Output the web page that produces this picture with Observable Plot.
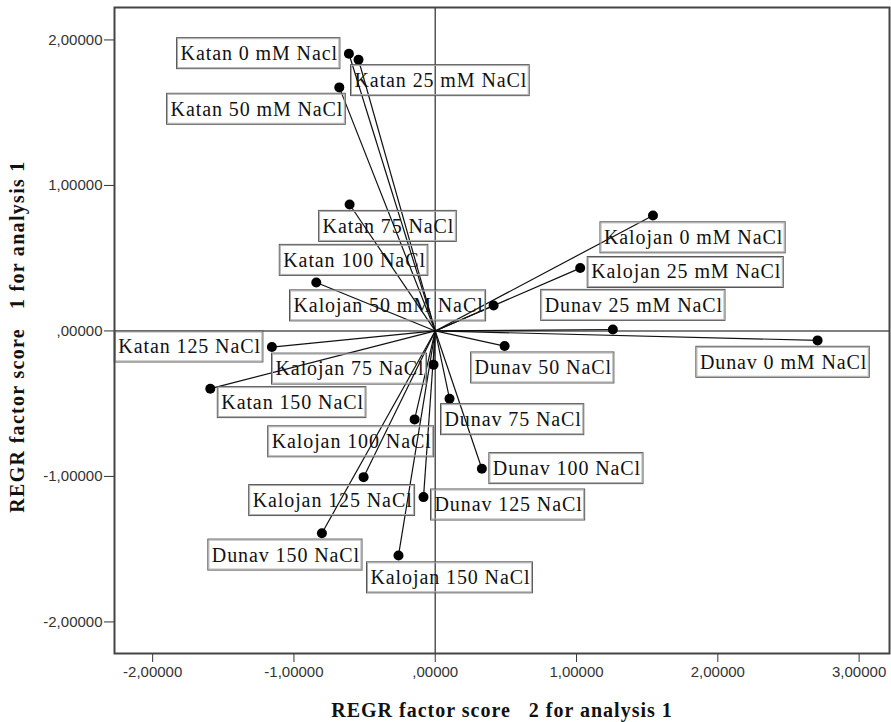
<!DOCTYPE html>
<html>
<head>
<meta charset="utf-8">
<script src="https://cdn.jsdelivr.net/npm/d3@7"></script>
<script src="https://cdn.jsdelivr.net/npm/@observablehq/plot@0.6"></script>
<style>
  html, body { margin: 0; padding: 0; background: #fff; }
  g[aria-description="point label"] text { letter-spacing: 0.9px; }
  g[aria-description="x title"] text { letter-spacing: 1px; }
  g[aria-description="y title"] text { letter-spacing: 1.3px; }
</style>
</head>
<body>
<div id="chart"></div>
<script>
// ---- data ----
const labels = [
  "Katan 0 mM Nacl", "Katan 25 mM NaCl", "Katan 50 mM NaCl", "Katan 75 NaCl",
  "Katan 100 NaCl", "Kalojan 50 mM NaCl", "Katan 125 NaCl", "Kalojan 75 NaCl",
  "Katan 150 NaCl", "Dunav 75 NaCl", "Kalojan 100 NaCl", "Dunav 100 NaCl",
  "Kalojan 125 NaCl", "Dunav 125 NaCl", "Dunav 150 NaCl", "Kalojan 150 NaCl",
  "Kalojan 0 mM NaCl", "Kalojan 25 mM NaCl", "Dunav 25 mM NaCl", "Dunav 50 NaCl",
  "Dunav 0 mM NaCl"
];
const score2 = [
  -0.611, -0.543, -0.679, -0.606, -0.842, 0.413, -1.156, -0.012,
  -1.592, 0.101, -0.146, 0.330, -0.507, -0.083, -0.802, -0.260,
  1.541, 1.026, 1.257, 0.491, 2.706
];
const score1 = [
  1.905, 1.864, 1.674, 0.869, 0.333, 0.175, -0.111, -0.232,
  -0.397, -0.466, -0.608, -0.947, -1.005, -1.142, -1.390, -1.543,
  0.794, 0.432, 0.010, -0.104, -0.065
];
const xTicks = [-2, -1, 0, 1, 2, 3];
const yTicks = [-2, -1, 0, 1, 2];
const xTitle = "REGR factor score \u00a0 2 for analysis 1";
const yTitle = "REGR factor score \u00a0 1 for analysis 1";

// ---- label placement (layout only: anchor, dx, dy in px) ----
const labelPlacement = [
  ["end", -11, 0], ["start", -4, 21], ["end", 4, 22], ["start", -27, 22],
  ["start", -33, -22], ["end", -10, 0], ["end", -11, 0], ["end", -9, 4],
  ["start", 11, 14], ["start", -5, 21], ["end", 17, 22], ["start", 11, 0],
  ["end", 49, 23], ["start", 11, 8], ["middle", -36, 22], ["start", -28, 22],
  ["start", -49, 22], ["start", 11, 4], ["middle", 21, -24], ["start", -30, 22],
  ["middle", -34, 22]
];

const data = labels.map((label, i) => ({label, x: score2[i], y: score1[i]}));

const fmt = d => {
  let s = Math.abs(d).toFixed(5).replace(".", ",");
  if (s.startsWith("0,")) s = s.slice(1);
  return (d < 0 ? "-" : "") + s;
};

const labelMarks = data.map((d, i) => Plot.text([d], {
  x: "x", y: "y", text: "label",
  textAnchor: labelPlacement[i][0], dx: labelPlacement[i][1], dy: labelPlacement[i][2],
  lineAnchor: "middle",
  fontFamily: "Liberation Serif", fontSize: 20, fill: "#111",
  ariaDescription: "point label"
}));

const plot = Plot.plot({
  width: 891, height: 722,
  marginLeft: 114, marginRight: 2, marginTop: 7, marginBottom: 69,
  style: {fontFamily: "Liberation Sans, Arial, sans-serif", fontSize: "15px", color: "#333", background: "#fff"},
  x: {domain: [-2.27, 3.215], ticks: xTicks, tickFormat: fmt, tickSize: 9, tickPadding: 4, label: null},
  y: {domain: [-2.217, 2.223], ticks: yTicks, tickFormat: fmt, tickSize: 10, tickPadding: 2, label: null},
  marks: [
    Plot.ruleX([0], {stroke: "#555", strokeWidth: 1.5}),
    Plot.ruleY([0], {stroke: "#555", strokeWidth: 1.5}),
    Plot.link(data, {x1: d => 0, y1: d => 0, x2: "x", y2: "y", stroke: "#111", strokeWidth: 1.2}),
    Plot.dot(data, {x: "x", y: "y", r: 5, fill: "#000", stroke: "none"}),
    ...labelMarks,
    Plot.frame({stroke: "#444", strokeWidth: 2}),
    Plot.text([xTitle], {frameAnchor: "bottom", text: d => d, dy: 57, lineAnchor: "middle", textAnchor: "middle",
      fontFamily: "Liberation Serif", fontWeight: "bold", fontSize: 20, fill: "#111", ariaDescription: "x title"}),
    Plot.text([yTitle], {frameAnchor: "left", text: d => d, dx: -97, dy: 6, rotate: -90, lineAnchor: "middle", textAnchor: "middle",
      fontFamily: "Liberation Serif", fontWeight: "bold", fontSize: 20, fill: "#111", ariaDescription: "y title"})
  ]
});

document.getElementById("chart").append(plot);

// boxes around point labels (same local coordinate system as each label)
plot.querySelectorAll('g[aria-description="point label"] text').forEach(t => {
  const b = t.getBBox();
  const tf = t.getAttribute("transform");
  const cy = b.y + b.height / 2;
  const x0 = b.x - 4, w = b.width + 6, h = 31;
  const ns = "http://www.w3.org/2000/svg";
  const mk = (x, y, ww, hh, stroke) => {
    const r = document.createElementNS(ns, "rect");
    r.setAttribute("x", x); r.setAttribute("y", y);
    r.setAttribute("width", ww); r.setAttribute("height", hh);
    r.setAttribute("fill", "none"); r.setAttribute("stroke", stroke); r.setAttribute("stroke-width", 1);
    if (tf) r.setAttribute("transform", tf);
    t.parentNode.appendChild(r);
  };
  mk(x0, cy - h / 2, w, h, "#555");
  mk(x0 + 1, cy - h / 2 + 1, w - 2, h - 2, "#aaa");
});
</script>
</body>
</html>
